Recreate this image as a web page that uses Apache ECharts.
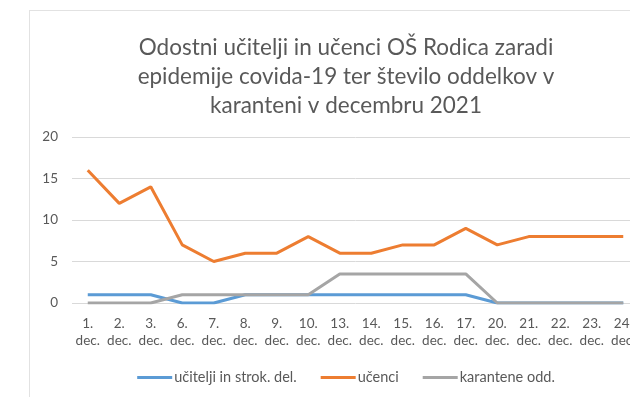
<!DOCTYPE html>
<html>
<head>
<meta charset="utf-8">
<script src="https://cdn.jsdelivr.net/npm/echarts@6/dist/echarts.min.js"></script>
<style>
  html, body { margin: 0; padding: 0; background: #ffffff; overflow: hidden; }
  #frame {
    position: absolute; left: 29px; top: 10px;
    width: 632px; height: 390px;
    border-left: 1px solid #e2e2e2; border-top: 1px solid #e2e2e2;
  }
  #chart { width: 632px; height: 390px; }
</style>
</head>
<body>
<div id="frame"><div id="chart"></div></div>
<script>
// School days in December 2021
const days = ['1.', '2.', '3.', '6.', '7.', '8.', '9.', '10.', '13.', '14.', '15.', '16.', '17.', '20.', '21.', '22.', '23.', '24.'];
const categories = days.map(d => d + '\ndec.');

// Absent teachers and staff
const teachers = [1, 1, 1, 0, 0, 1, 1, 1, 1, 1, 1, 1, 1, 0, 0, 0, 0, 0];
// Absent pupils
const pupils = [16, 12, 14, 7, 5, 6, 6, 8, 6, 6, 7, 7, 9, 7, 8, 8, 8, 8];
// Classes in quarantine
const quarantined = [0, 0, 0, 1, 1, 1, 1, 1, 3.5, 3.5, 3.5, 3.5, 3.5, 0, 0, 0, 0, 0];

const seriesNames = ['učitelji in strok. del.', 'učenci', 'karantene odd.'];
const seriesColors = ['#5B9BD5', '#ED7D31', '#A5A5A5'];
const yTicks = { min: 0, max: 20, interval: 5 };

const font = 'Lato, "Open Sans", sans-serif';
const chart = echarts.init(document.getElementById('chart'));

const mkSeries = (name, data, color) => ({
  name, type: 'line', data,
  symbol: 'none',
  lineStyle: { width: 3, color },
  itemStyle: { color },
  z: 3
});

chart.setOption({
  animation: false,
  textStyle: { fontFamily: font },
  title: {
    text: 'Odostni učitelji in učenci OŠ Rodica zaradi\nepidemije covida-19 ter število oddelkov v\nkaranteni v decembru 2021',
    left: 'center', top: 17,
    textStyle: { fontFamily: font, fontSize: 22.5, fontWeight: 'normal', color: '#595959', lineHeight: 29 }
  },
  legend: {
    bottom: 11, left: 'center',
    icon: 'rect', itemWidth: 35, itemHeight: 3, itemGap: 24,
    textStyle: { fontFamily: font, fontSize: 14.5, color: '#595959', padding: [0, 0, 0, -3] },
    data: seriesNames
  },
  grid: { left: 42, right: 23, top: 126, bottom: 98 },
  xAxis: {
    type: 'category', data: categories, boundaryGap: true,
    axisLine: { show: false }, axisTick: { show: false },
    axisLabel: { color: '#595959', fontSize: 13.5, fontFamily: font, margin: 12, lineHeight: 17, interval: 0 }
  },
  yAxis: {
    type: 'value', min: yTicks.min, max: yTicks.max, interval: yTicks.interval,
    axisLine: { show: false }, axisTick: { show: false },
    axisLabel: { color: '#595959', fontSize: 13.5, fontFamily: font, margin: 14 },
    splitLine: { lineStyle: { color: '#d9d9d9', width: 1 } }
  },
  series: [
    mkSeries(seriesNames[0], teachers, seriesColors[0]),
    mkSeries(seriesNames[1], pupils, seriesColors[1]),
    mkSeries(seriesNames[2], quarantined, seriesColors[2])
  ]
});
</script>
</body>
</html>
